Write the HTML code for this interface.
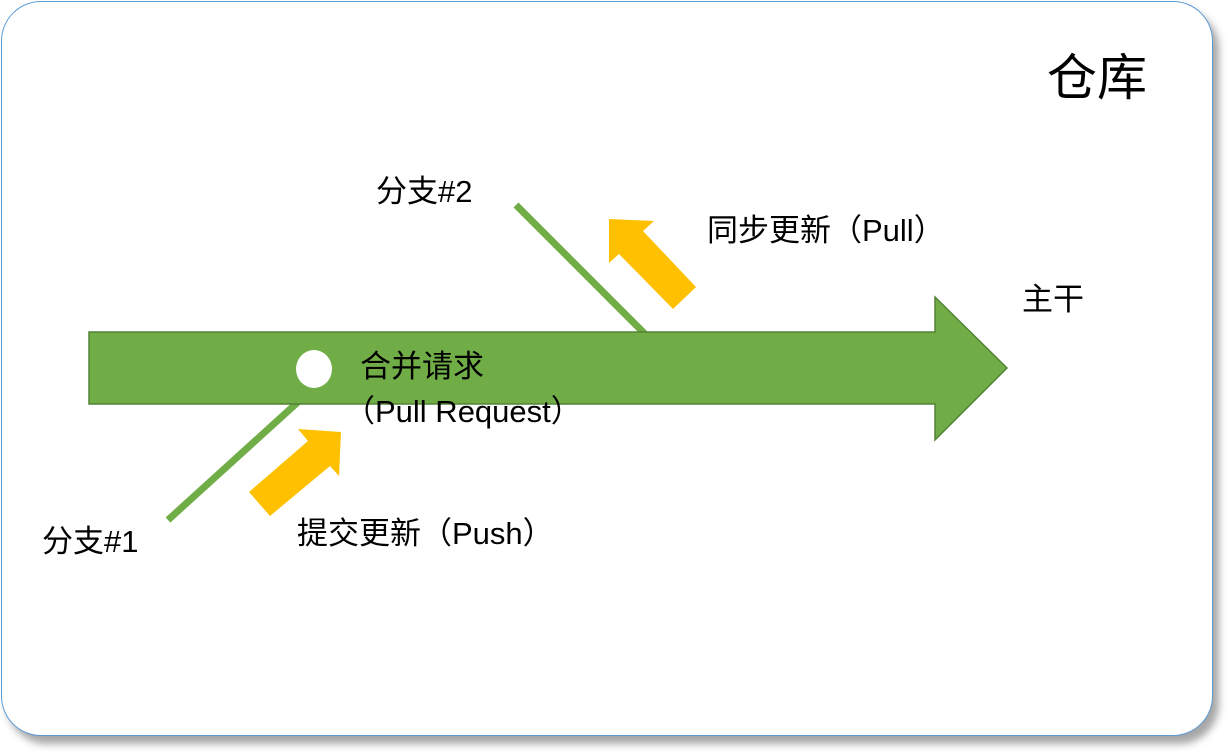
<!DOCTYPE html>
<html><head><meta charset="utf-8"><style>
html,body{margin:0;padding:0;background:#fff;}
body{width:1231px;height:755px;overflow:hidden;position:relative;font-family:"Liberation Sans","Noto Sans CJK SC",sans-serif;}
.card{position:absolute;left:1px;top:1px;width:1210px;height:733px;border:1.5px solid #5b9bd5;border-radius:40px;box-shadow:6px 8px 8px rgba(0,0,0,0.35);background:#fff;}
.t{position:absolute;color:#000;white-space:nowrap;line-height:1;}
</style></head><body>
<div class="card"></div>
<svg width="1231" height="755" style="position:absolute;left:0;top:0">
<line x1="516" y1="205" x2="645" y2="334" stroke="#70ad47" stroke-width="7"/>
<line x1="168" y1="520" x2="298" y2="402" stroke="#70ad47" stroke-width="7"/>
<polygon points="89,332 935,332 935,297 1007,368 935,440 935,404 89,404" fill="#70ad47" stroke="#548235" stroke-width="1.5"/>
<ellipse cx="314" cy="369" rx="18" ry="19" fill="#fff"/>
<polygon points="609,219 654,221 643,231 696,287 673,309 619,254 609,263" fill="#ffc000"/>
<polygon points="298,429 341,432 339,476 330,466 270,516 249,492 308,441" fill="#ffc000"/>
</svg>
<div class="t" style="left:1047px;top:53px;font-size:50px;">仓库</div>
<div class="t" style="left:376px;top:176px;font-size:31px;">分支#2</div>
<div class="t" style="left:707px;top:215px;font-size:31px;">同步更新（Pull）</div>
<div class="t" style="left:1022px;top:284px;font-size:31px;">主干</div>
<div class="t" style="left:360px;top:351px;font-size:31px;">合并请求</div>
<div class="t" style="left:344px;top:396px;font-size:31px;">（Pull Request）</div>
<div class="t" style="left:42px;top:526px;font-size:31px;">分支#1</div>
<div class="t" style="left:297px;top:518px;font-size:31px;">提交更新（Push）</div>
</body></html>
